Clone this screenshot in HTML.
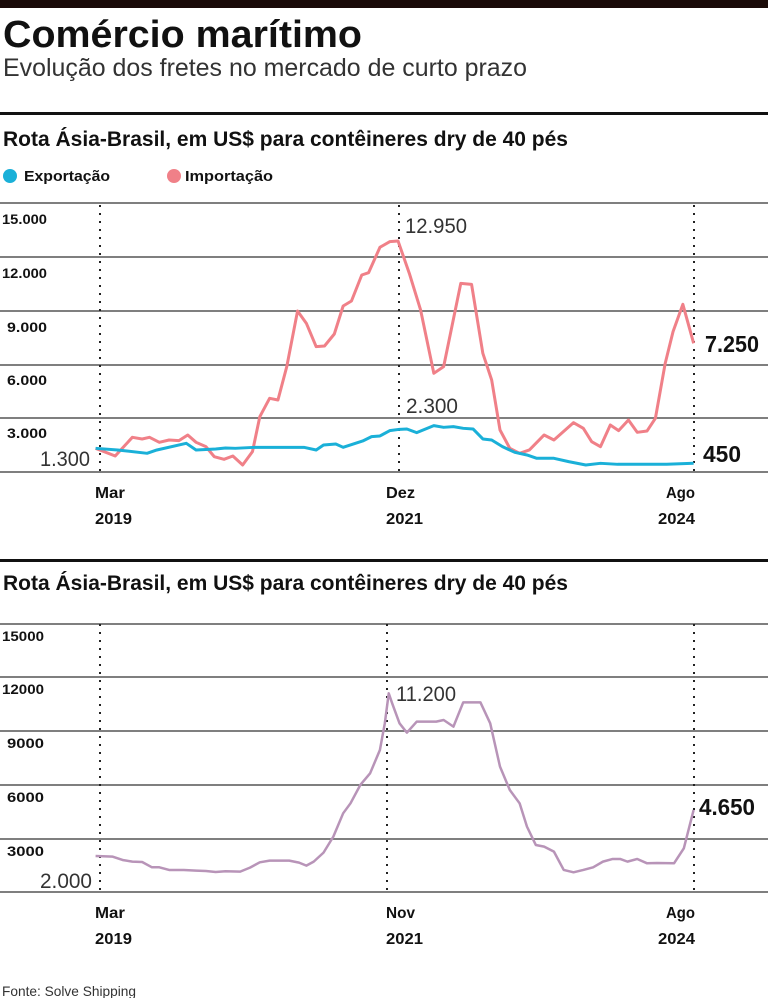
<!DOCTYPE html>
<html><head><meta charset="utf-8"><style>
html,body{margin:0;padding:0;background:#fff;}
svg{display:block;}
text{font-family:"Liberation Sans Narrow","Liberation Sans",sans-serif;fill:#111;}
.b{font-weight:bold;}
</style></head><body>
<svg width="768" height="998" viewBox="0 0 768 998" xmlns="http://www.w3.org/2000/svg">
<rect x="0" y="0" width="768" height="8" fill="#1a0a08"/>
<text x="3" y="47" class="b" font-size="38" textLength="359" lengthAdjust="spacingAndGlyphs">Comércio marítimo</text>
<text x="3" y="76" font-size="25" textLength="524" lengthAdjust="spacingAndGlyphs" style="fill:#333">Evolução dos fretes no mercado de curto prazo</text>
<rect x="0" y="112" width="768" height="3" fill="#111"/>
<text x="3" y="146" class="b" font-size="21" textLength="565" lengthAdjust="spacingAndGlyphs">Rota Ásia-Brasil, em US$ para contêineres dry de 40 pés</text>
<circle cx="10" cy="176" r="7" fill="#1ab0d8"/>
<text x="24" y="181" class="b" font-size="15" textLength="86" lengthAdjust="spacingAndGlyphs">Exportação</text>
<circle cx="174" cy="176" r="7" fill="#f08088"/>
<text x="185" y="181" class="b" font-size="15" textLength="88" lengthAdjust="spacingAndGlyphs">Importação</text>

<g stroke="#555" stroke-width="1.5">
<line x1="0" y1="203" x2="768" y2="203"/>
<line x1="0" y1="257" x2="768" y2="257"/>
<line x1="0" y1="311" x2="768" y2="311"/>
<line x1="0" y1="365" x2="768" y2="365"/>
<line x1="0" y1="418" x2="768" y2="418"/>
<line x1="0" y1="472" x2="768" y2="472"/>
</g>
<g stroke="#222" stroke-width="2" stroke-dasharray="2,6">
<line x1="100" y1="205" x2="100" y2="472"/>
<line x1="399" y1="205" x2="399" y2="472"/>
<line x1="694" y1="205" x2="694" y2="472"/>
</g>
<g font-size="14">
<text x="2" y="224" class="b" textLength="45" lengthAdjust="spacingAndGlyphs">15.000</text>
<text x="2" y="278" class="b" textLength="45" lengthAdjust="spacingAndGlyphs">12.000</text>
<text x="7" y="332" class="b" textLength="40" lengthAdjust="spacingAndGlyphs">9.000</text>
<text x="7" y="385" class="b" textLength="40" lengthAdjust="spacingAndGlyphs">6.000</text>
<text x="7" y="438" class="b" textLength="40" lengthAdjust="spacingAndGlyphs">3.000</text>
</g>
<g transform="translate(0,240) scale(0.4902,0.3333)" fill="none" stroke-width="3" stroke-linejoin="round">
<polyline vector-effect="non-scaling-stroke" stroke="#f08088" points="195,625 235,648 270,592 290,597 305,592 325,607 345,600 365,602 383,585 400,607 420,620 437,650 457,658 475,648 495,675 515,635 530,530 550,475 567,480 585,380 607,213 625,250 645,320 662,318 682,282 700,198 717,183 738,105 752,98 775,22 795,5 812,3 835,100 858,210 885,400 905,380 940,130 962,133 985,340 1003,420 1020,570 1040,625 1060,640 1080,630 1110,585 1130,600 1170,548 1190,565 1207,605 1225,620 1245,555 1262,572 1282,540 1300,577 1320,573 1337,535 1357,370 1373,275 1393,193 1415,310"/>
<polyline vector-effect="non-scaling-stroke" stroke="#1ab0d8" points="195,625 240,630 300,640 320,630 380,610 400,630 440,627 460,624 480,625 520,622 580,622 620,622 645,630 660,615 685,612 700,622 740,603 758,590 775,588 795,572 815,568 830,567 850,578 885,557 905,562 925,560 945,565 965,567 985,597 1003,600 1025,620 1050,637 1075,645 1095,655 1130,655 1160,665 1195,675 1225,670 1260,673 1300,673 1360,673 1415,670"/>
</g>
<text x="405" y="233" font-size="21" textLength="62" lengthAdjust="spacingAndGlyphs" style="fill:#333">12.950</text>
<text x="406" y="413" font-size="21" textLength="52" lengthAdjust="spacingAndGlyphs" style="fill:#333">2.300</text>
<text x="40" y="466" font-size="21" textLength="50" lengthAdjust="spacingAndGlyphs" style="fill:#333">1.300</text>
<text x="705" y="352" class="b" font-size="23" textLength="54" lengthAdjust="spacingAndGlyphs">7.250</text>
<text x="703" y="462" class="b" font-size="23" textLength="38" lengthAdjust="spacingAndGlyphs">450</text>
<g font-size="16">
<text x="95" y="498" class="b" textLength="30" lengthAdjust="spacingAndGlyphs">Mar</text><text x="95" y="524" class="b" textLength="37" lengthAdjust="spacingAndGlyphs">2019</text>
<text x="386" y="498" class="b" textLength="29" lengthAdjust="spacingAndGlyphs">Dez</text><text x="386" y="524" class="b" textLength="37" lengthAdjust="spacingAndGlyphs">2021</text>
<text x="666" y="498" class="b" textLength="29" lengthAdjust="spacingAndGlyphs">Ago</text><text x="658" y="524" class="b" textLength="37" lengthAdjust="spacingAndGlyphs">2024</text>
</g>

<rect x="0" y="559" width="768" height="3" fill="#111"/>
<text x="3" y="590" class="b" font-size="21" textLength="565" lengthAdjust="spacingAndGlyphs">Rota Ásia-Brasil, em US$ para contêineres dry de 40 pés</text>
<g stroke="#555" stroke-width="1.5">
<line x1="0" y1="624" x2="768" y2="624"/>
<line x1="0" y1="677" x2="768" y2="677"/>
<line x1="0" y1="731" x2="768" y2="731"/>
<line x1="0" y1="785" x2="768" y2="785"/>
<line x1="0" y1="839" x2="768" y2="839"/>
<line x1="0" y1="892" x2="768" y2="892"/>
</g>
<g stroke="#222" stroke-width="2" stroke-dasharray="2,6">
<line x1="100" y1="624" x2="100" y2="890"/>
<line x1="387" y1="624" x2="387" y2="890"/>
<line x1="694" y1="624" x2="694" y2="890"/>
</g>
<g font-size="14">
<text x="2" y="641" class="b" textLength="42" lengthAdjust="spacingAndGlyphs">15000</text>
<text x="2" y="694" class="b" textLength="42" lengthAdjust="spacingAndGlyphs">12000</text>
<text x="7" y="748" class="b" textLength="37" lengthAdjust="spacingAndGlyphs">9000</text>
<text x="7" y="802" class="b" textLength="37" lengthAdjust="spacingAndGlyphs">6000</text>
<text x="7" y="856" class="b" textLength="37" lengthAdjust="spacingAndGlyphs">3000</text>
</g>
<g transform="translate(0,540) scale(0.4902,0.3333)" fill="none" stroke-width="2.5" stroke-linejoin="round">
<polyline vector-effect="non-scaling-stroke" stroke="#b894b8" points="195,948 230,950 250,960 270,965 290,966 310,982 325,982 345,990 375,990 400,992 420,993 440,996 460,994 490,995 510,983 530,967 550,962 590,962 610,968 625,977 640,965 660,938 680,890 700,820 715,790 735,735 755,700 775,630 785,550 793,460 800,490 815,550 830,578 850,545 890,545 905,540 925,560 945,487 980,487 1000,550 1020,680 1040,750 1060,790 1075,860 1093,915 1110,920 1130,935 1150,990 1170,997 1190,990 1210,982 1230,965 1250,957 1265,957 1280,965 1300,957 1320,970 1340,969 1375,970 1395,925 1415,810"/>
</g>
<text x="396" y="701" font-size="21" textLength="60" lengthAdjust="spacingAndGlyphs" style="fill:#333">11.200</text>
<text x="40" y="888" font-size="21" textLength="52" lengthAdjust="spacingAndGlyphs" style="fill:#333">2.000</text>
<text x="699" y="815" class="b" font-size="23" textLength="56" lengthAdjust="spacingAndGlyphs">4.650</text>
<g font-size="16">
<text x="95" y="918" class="b" textLength="30" lengthAdjust="spacingAndGlyphs">Mar</text><text x="95" y="944" class="b" textLength="37" lengthAdjust="spacingAndGlyphs">2019</text>
<text x="386" y="918" class="b" textLength="29" lengthAdjust="spacingAndGlyphs">Nov</text><text x="386" y="944" class="b" textLength="37" lengthAdjust="spacingAndGlyphs">2021</text>
<text x="666" y="918" class="b" textLength="29" lengthAdjust="spacingAndGlyphs">Ago</text><text x="658" y="944" class="b" textLength="37" lengthAdjust="spacingAndGlyphs">2024</text>
</g>
<text x="2" y="996" font-size="14" textLength="134" lengthAdjust="spacingAndGlyphs" style="fill:#333">Fonte: Solve Shipping</text>
</svg>
</body></html>
